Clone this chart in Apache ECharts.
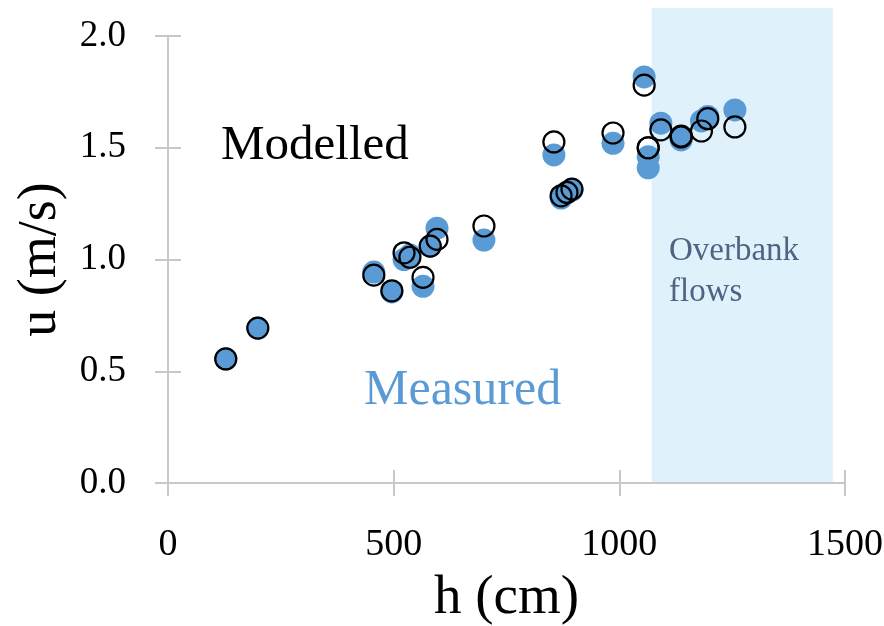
<!DOCTYPE html>
<html>
<head>
    <meta charset="utf-8">
    <title>u vs h</title>
    <script src="https://cdn.jsdelivr.net/npm/echarts@6/dist/echarts.min.js"></script>
</head>
<body style="margin:0">
    <div id="main" style="width: 884px;height:626px;"></div>
    <script type="text/javascript">
        // depth h (cm) of each sample
        var depth = [128, 199, 456, 496, 523, 536, 565, 581, 596, 700, 855, 871, 884, 895,
                     986, 1055, 1064, 1064, 1092, 1137, 1137, 1182, 1196, 1256];
        // measured velocity u (m/s)
        var measured = [0.555, 0.693, 0.944, 0.855, 1.00, 1.02, 0.88, 1.06, 1.14, 1.087, 1.468, 1.275, 1.30, 1.31,
                        1.52, 1.817, 1.46, 1.41, 1.61, 1.535, 1.545, 1.62, 1.64, 1.669];
        // modelled velocity u (m/s)
        var modelled = [0.555, 0.693, 0.93, 0.86, 1.03, 1.01, 0.92, 1.06, 1.09, 1.15, 1.526, 1.285, 1.30, 1.315,
                        1.566, 1.78, 1.50, 1.50, 1.58, 1.548, 1.552, 1.575, 1.63, 1.593];
        // overbank flows band: h from, h to, u from, u to
        var overbank = [[1072, 1473, 0, 2.125]];
        var xTicks = [0, 1500, 500];
        var yTicks = [0, 2, 0.5];

        var font = 'Liberation Serif';
        var blue = '#5b9bd5';
        var grey = '#c8c8c8';

        function pairs(ys) {
            return depth.map(function (h, i) { return [h, ys[i]]; });
        }

        var myChart = echarts.init(document.getElementById('main'));

        function xAx(inside) {
            return {
                type: 'value', min: xTicks[0], max: xTicks[1], interval: xTicks[2],
                position: 'bottom',
                name: inside ? '' : 'h (cm)',
                nameLocation: 'middle', nameGap: 88,
                nameTextStyle: { fontFamily: font, fontSize: 55, color: '#000' },
                axisLine: { show: !inside, lineStyle: { color: grey, width: 2 } },
                axisTick: { inside: inside, length: 13, lineStyle: { color: grey, width: 2 } },
                axisLabel: { show: !inside, margin: 43, fontFamily: font, fontSize: 38, color: '#000',
                    formatter: function (v) { return String(v); } },
                splitLine: { show: false }
            };
        }
        function yAx(inside) {
            return {
                type: 'value', min: yTicks[0], max: yTicks[1], interval: yTicks[2],
                position: 'left',
                name: inside ? '' : 'u (m/s)',
                nameLocation: 'middle', nameGap: 100, nameRotate: 90,
                nameTextStyle: { fontFamily: font, fontSize: 54, color: '#000' },
                axisLine: { show: !inside, lineStyle: { color: grey, width: 2 } },
                axisTick: { inside: inside, length: 13, lineStyle: { color: grey, width: 2 } },
                axisLabel: { show: !inside, margin: 42, fontFamily: font, fontSize: 37, color: '#000',
                    formatter: function (v) { return v.toFixed(1); } },
                splitLine: { show: false }
            };
        }

        var option = {
            animation: false,
            grid: { left: 168, right: 39, top: 36, bottom: 143, containLabel: false, outerBoundsMode: 'none' },
            xAxis: [xAx(false), xAx(true)],
            yAxis: [yAx(false), yAx(true)],
            graphic: [
                { type: 'text', z: 100, left: 221, top: 122, style: { text: 'Modelled', fontFamily: font, fontSize: 49, fill: '#000' } },
                { type: 'text', z: 100, left: 364, top: 366, style: { text: 'Measured', fontFamily: font, fontSize: 50, fill: blue } },
                { type: 'text', z: 100, left: 669, top: 231, style: { text: 'Overbank\nflows', fontFamily: font, fontSize: 33, lineHeight: 41, fill: '#4f6382' } }
            ],
            series: [
                {
                    type: 'custom',
                    z: 0,
                    clip: false,
                    silent: true,
                    data: overbank,
                    renderItem: function (params, api) {
                        var p0 = api.coord([api.value(0), api.value(2)]);
                        var p1 = api.coord([api.value(1), api.value(3)]);
                        return {
                            type: 'rect',
                            shape: { x: p0[0], y: p1[1], width: p1[0] - p0[0], height: p0[1] - p1[1] },
                            style: { fill: '#dff2fb' }
                        };
                    }
                },
                {
                    type: 'scatter',
                    name: 'Measured',
                    z: 2,
                    symbolSize: 23,
                    itemStyle: { color: blue, opacity: 1 },
                    data: pairs(measured)
                },
                {
                    type: 'scatter',
                    name: 'Modelled',
                    z: 3,
                    symbolSize: 21,
                    itemStyle: { color: 'rgba(0,0,0,0)', borderColor: '#000', borderWidth: 2.2, opacity: 1 },
                    data: pairs(modelled)
                }
            ]
        };
        myChart.setOption(option);
    </script>
</body>
</html>
